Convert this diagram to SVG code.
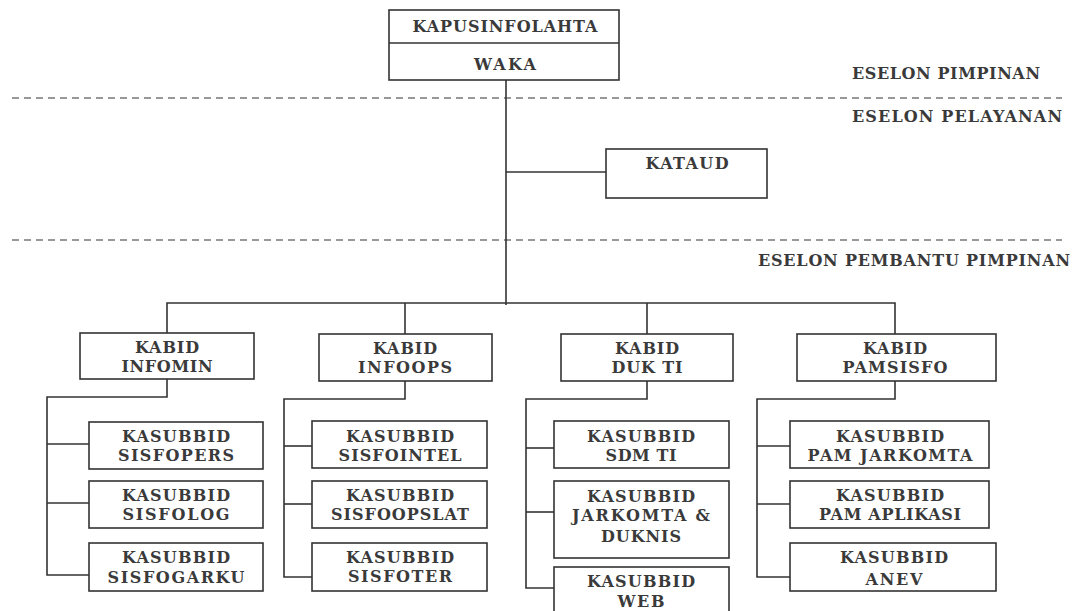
<svg xmlns="http://www.w3.org/2000/svg" width="1073" height="611" viewBox="0 0 1073 611">
<style>
.box{fill:#fff;stroke:#333;stroke-width:1.6}
.ln{fill:none;stroke:#333;stroke-width:1.6}
.dash{fill:none;stroke:#777;stroke-width:1.5;stroke-dasharray:7 5}
text{font-family:"DejaVu Serif","Liberation Serif",serif;font-size:16px;font-weight:bold;fill:#3a3a3a;text-anchor:middle}
.lbl{text-anchor:start}
</style>
<rect width="1073" height="611" fill="#fff"/>
<g id="connectors">
<line class="dash" x1="12" y1="98" x2="1062" y2="98"/>
<line class="dash" x1="12" y1="240" x2="1062" y2="240"/>
<polyline class="ln" points="506,80 506,305"/>
<polyline class="ln" points="506,172 606,172"/>
<polyline class="ln" points="167,333 167,303 895,303 895,334"/>
<polyline class="ln" points="405,303 405,334"/>
<polyline class="ln" points="647,303 647,334"/>
<polyline class="ln" points="167,379 167,397 47,397 47,575 89,575"/>
<polyline class="ln" points="47,444 89,444"/>
<polyline class="ln" points="47,503 89,503"/>
<polyline class="ln" points="405,381 405,399 284,399 284,577 312,577"/>
<polyline class="ln" points="284,446 312,446"/>
<polyline class="ln" points="284,504 312,504"/>
<polyline class="ln" points="647,381 647,399 526,399 526,588 554,588"/>
<polyline class="ln" points="526,448 554,448"/>
<polyline class="ln" points="526,512 554,512"/>
<polyline class="ln" points="895,381 895,399 757,399 757,577 790,577"/>
<polyline class="ln" points="757,446 790,446"/>
<polyline class="ln" points="757,504 790,504"/>
</g>
<g id="labels">
<text class="lbl" x="852" y="79" textLength="188">ESELON PIMPINAN</text>
<text class="lbl" x="852" y="122" textLength="210">ESELON PELAYANAN</text>
<text class="lbl" x="758" y="266" textLength="312">ESELON PEMBANTU PIMPINAN</text>
</g>
<g id="kapusinfolahta">
<rect class="box" x="389" y="10" width="230" height="70"/>
<line class="ln" x1="389" y1="43" x2="619" y2="43"/>
<text x="505" y="32" textLength="185">KAPUSINFOLAHTA</text>
<text x="505" y="70" textLength="62">WAKA</text>
</g>
<g id="kataud">
<rect class="box" x="606" y="149" width="161" height="49"/>
<text x="687" y="169" textLength="83">KATAUD</text>
</g>
<g id="kabid-infomin">
<rect class="box" x="80" y="333" width="174" height="46"/>
<text x="167" y="353" textLength="64">KABID</text>
<text x="167" y="372" textLength="91">INFOMIN</text>
</g>
<g id="kasubbid-sisfopers">
<rect class="box" x="89" y="422" width="174" height="47"/>
<text x="176" y="442" textLength="108">KASUBBID</text>
<text x="176" y="461" textLength="116">SISFOPERS</text>
</g>
<g id="kasubbid-sisfolog">
<rect class="box" x="89" y="481" width="174" height="47"/>
<text x="176" y="501" textLength="108">KASUBBID</text>
<text x="176" y="520" textLength="107">SISFOLOG</text>
</g>
<g id="kasubbid-sisfogarku">
<rect class="box" x="89" y="543" width="174" height="48"/>
<text x="176" y="563" textLength="108">KASUBBID</text>
<text x="176" y="583" textLength="137">SISFOGARKU</text>
</g>
<g id="kabid-infoops">
<rect class="box" x="319" y="334" width="173" height="47"/>
<text x="405" y="354" textLength="64">KABID</text>
<text x="405" y="373" textLength="94">INFOOPS</text>
</g>
<g id="kasubbid-sisfointel">
<rect class="box" x="312" y="421" width="175" height="47"/>
<text x="400" y="442" textLength="108">KASUBBID</text>
<text x="400" y="461" textLength="123">SISFOINTEL</text>
</g>
<g id="kasubbid-sisfoopslat">
<rect class="box" x="312" y="481" width="175" height="47"/>
<text x="400" y="501" textLength="108">KASUBBID</text>
<text x="400" y="520" textLength="138">SISFOOPSLAT</text>
</g>
<g id="kasubbid-sisfoter">
<rect class="box" x="312" y="543" width="175" height="48"/>
<text x="400" y="563" textLength="108">KASUBBID</text>
<text x="400" y="582" textLength="104">SISFOTER</text>
</g>
<g id="kabid-dukti">
<rect class="box" x="561" y="334" width="172" height="47"/>
<text x="647" y="354" textLength="64">KABID</text>
<text x="647" y="373" textLength="71">DUK TI</text>
</g>
<g id="kasubbid-sdmti">
<rect class="box" x="554" y="421" width="175" height="47"/>
<text x="641" y="442" textLength="108">KASUBBID</text>
<text x="641" y="461" textLength="71">SDM TI</text>
</g>
<g id="kasubbid-jarkomta-duknis">
<rect class="box" x="554" y="481" width="175" height="77"/>
<text x="641" y="502" textLength="108">KASUBBID</text>
<text x="641" y="521" textLength="138">JARKOMTA &amp;</text>
<text x="641" y="542" textLength="80">DUKNIS</text>
</g>
<g id="kasubbid-web">
<rect class="box" x="554" y="567" width="175" height="60"/>
<text x="641" y="587" textLength="108">KASUBBID</text>
<text x="641" y="607" textLength="47">WEB</text>
</g>
<g id="kabid-pamsisfo">
<rect class="box" x="797" y="334" width="199" height="47"/>
<text x="895" y="354" textLength="64">KABID</text>
<text x="895" y="373" textLength="105">PAMSISFO</text>
</g>
<g id="kasubbid-pamjarkomta">
<rect class="box" x="790" y="421" width="199" height="47"/>
<text x="890" y="442" textLength="108">KASUBBID</text>
<text x="890" y="461" textLength="165">PAM JARKOMTA</text>
</g>
<g id="kasubbid-pamaplikasi">
<rect class="box" x="790" y="481" width="199" height="47"/>
<text x="890" y="501" textLength="108">KASUBBID</text>
<text x="890" y="520" textLength="142">PAM APLIKASI</text>
</g>
<g id="kasubbid-anev">
<rect class="box" x="790" y="543" width="206" height="48"/>
<text x="894" y="563" textLength="108">KASUBBID</text>
<text x="894" y="585" textLength="57">ANEV</text>
</g>
</svg>
